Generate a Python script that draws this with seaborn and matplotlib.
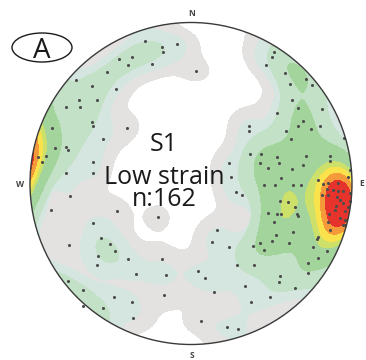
import numpy as np
import matplotlib
matplotlib.use("Agg")
import matplotlib.pyplot as plt
import seaborn as sns
import pandas as pd
from matplotlib.patches import Circle, Ellipse

# Poles to S1, equal-area (Schmidt) lower-hemisphere net coordinates (unit radius)
net_x = [-0.286, -0.180, -0.174, -0.087, -0.447, -0.366, -0.391, -0.242, -0.522, -0.714,
         -0.615, -0.466, -0.696, -0.584, -0.776, -0.689, -0.615, -0.609, -0.863, -0.398,
         -0.547, -0.845, -0.776, -0.764, -0.950, -0.901, -0.925, -0.609, -0.776, -0.609,
         0.031, 0.516, 0.503, 0.466, 0.584, 0.714, 0.615, 0.752, 0.627, 0.665,
         0.814, 0.534, 0.696, 0.665, 0.360, 0.360, 0.590, 0.745, 0.801, 0.621,
         0.950, 0.366, 0.435, 0.534, 0.714, 0.863, 0.429, 0.547, 0.863, 0.696,
         0.236, 0.478, 0.627, 0.248, 0.559, 0.975,
         -0.752, -0.870, -0.460, -0.205, -0.609, -0.559, -0.503, -0.758, -0.472, -0.578,
         -0.391, -0.180, -0.584, -0.342, -0.155, -0.764, -0.671, -0.168, -0.478, -0.366,
         -0.547, -0.360, -0.671,
         0.453, 0.522, 0.634, 0.683, 0.280, 0.317, 0.553, 0.602, 0.646, 0.478,
         0.534, 0.559, 0.658, 0.665, 0.516, 0.161, 0.634, 0.528, 0.130, 0.236,
         0.503, 0.429, 0.385, 0.453, 0.609, 0.286, 0.391, 0.727, 0.727, 0.043,
         0.087, 0.553, 0.547, 0.335, 0.646, 0.143, 0.491, 0.373, 0.062, 0.224,
         0.292,
         0.990, 0.789, 0.820, 0.851, 0.913, 0.845, 0.913, 0.944, 0.851, 0.907,
         0.985, 0.944, 0.975, 0.894, 0.857, 0.957, 0.944, 0.851, 0.863, 0.789,
         0.783, 0.758, 0.845, 0.789,
         0.925, 0.957, 0.901, 0.988, 0.925, 0.882, 0.955, 0.814]
net_y = [0.885, 0.848, 0.817, 0.866, 0.773, 0.786, 0.736, 0.742, 0.693, 0.643,
         0.606, 0.587, 0.519, 0.519, 0.475, 0.475, 0.382, 0.357, 0.345, 0.345,
         0.276, 0.220, 0.227, 0.208, 0.165, 0.171, 0.134, 0.134, 0.065, 0.065,
         0.699, 0.817, 0.786, 0.736, 0.686, 0.649, 0.618, 0.612, 0.519, 0.469,
         0.463, 0.438, 0.388, 0.357, 0.357, 0.326, 0.326, 0.339, 0.357, 0.276,
         0.285, 0.183, 0.183, 0.165, 0.171, 0.171, 0.127, 0.127, 0.140, 0.115,
         0.127, 0.096, 0.090, 0.040, 0.034, 0.040,
         -0.078, -0.165, -0.171, -0.208, -0.245, -0.339, -0.376, -0.382, -0.419, -0.450,
         -0.469, -0.469, -0.506, -0.562, -0.568, -0.606, -0.661, -0.693, -0.705, -0.736,
         -0.773, -0.835, -0.761,
         -0.009, -0.009, -0.009, -0.009, -0.053, -0.071, -0.109, -0.115, -0.146, -0.183,
         -0.189, -0.189, -0.189, -0.202, -0.239, -0.289, -0.301, -0.320, -0.363, -0.394,
         -0.357, -0.370, -0.388, -0.413, -0.370, -0.506, -0.506, -0.494, -0.556, -0.543,
         -0.587, -0.575, -0.612, -0.637, -0.649, -0.674, -0.705, -0.736, -0.854, -0.891,
         -0.904,
         0.084, 0.022, -0.003, 0.003, 0.003, -0.034, -0.047, -0.047, -0.071, -0.084,
         -0.109, -0.121, -0.146, -0.165, -0.189, -0.227, -0.258, -0.239, -0.289, -0.332,
         -0.345, -0.394, -0.419, -0.463,
         -0.102, -0.171, -0.140, -0.059, -0.214, -0.040, -0.258, -0.071]

title_lines = ["S1", "Low strain", "n:162"]
panel_label = "A"
directions = ["N", "E", "S", "W"]

low_colors = ["#e4e1e1", "#d5e6e0"]
high_colors = ["#c3e1c6", "#a3d49c", "#cde06a", "#f9e24c", "#f49a3a", "#e6332b"]
low_levels = [0.75, 1.9]
high_fracs = [0.23, 0.33, 0.52, 0.60, 0.70, 0.81]


def to_vec(x, y):
    x = np.asarray(x, float)
    y = np.asarray(y, float)
    r = np.hypot(x, y)
    r = np.clip(r, 1e-9, np.sqrt(2) - 1e-9)
    th = 2 * np.arcsin(r / np.sqrt(2))
    return np.stack([np.sin(th) * x / r, np.sin(th) * y / r, -np.cos(th)], axis=-1)


pts = to_vec(net_x, net_y)
g = np.linspace(-1.05, 1.05, 281)
GX, GY = np.meshgrid(g, g)
G = to_vec(GX.ravel(), GY.ravel())
c = np.abs(G @ pts.T)
dens_fine = np.exp(65.0 * (c - 1)).sum(axis=1).reshape(GX.shape)
dens_broad = np.exp(38.0 * (c - 1)).sum(axis=1).reshape(GX.shape)
bmax = dens_broad.max()

fig = plt.figure(figsize=(3.66, 3.60), dpi=100)
ax = fig.add_axes([0, 0, 1, 1])

clip = Circle((0, 0), 1, transform=ax.transData)
cs1 = ax.contourf(GX, GY, dens_fine, levels=low_levels + [1e9], colors=low_colors, zorder=1)
cs1.set_clip_path(clip)
cs2 = ax.contourf(GX, GY, dens_broad, levels=[f * bmax for f in high_fracs] + [1e9],
                  colors=high_colors, zorder=2)
cs2.set_clip_path(clip)

df = pd.DataFrame({"x": net_x, "y": net_y})
sns.scatterplot(data=df, x="x", y="y", ax=ax, color="#4d4d4d", s=5,
                linewidth=0, zorder=3, legend=False)
ax.add_patch(Circle((0, 0), 1, fill=False, ec="#3a3a3a", lw=1.0, zorder=4))
ax.set_xlim(-191 / 161, 175 / 161)
ax.set_ylim(-176.5 / 161, 183.5 / 161)
ax.set_aspect("equal")
ax.axis("off")

fam = ["Open Sans", "DejaVu Sans"]
tx = -27 / 161
ty = [(183.5 - 151) / 161, (183.5 - 184) / 161, (183.5 - 206) / 161]
for t, yy in zip(title_lines, ty):
    ax.text(tx, yy, t, ha="center", va="baseline", fontsize=18, family=fam,
            color="#1a1a1a", zorder=5)

ax.add_patch(Ellipse(((42 - 191) / 161, (183.5 - 47.5) / 161), 60 / 161, 29 / 161,
                     fill=False, ec="#1a1a1a", lw=1.0, zorder=5))
ax.text((42 - 191) / 161, (183.5 - 58.5) / 161, panel_label, ha="center", va="baseline",
        fontsize=20, family=fam, color="#1a1a1a", zorder=5)

dpos = {"N": (0.006, 1.053), "S": (0.006, -1.071), "W": (-1.062, -0.009), "E": (1.062, 0.003)}
for d in directions:
    ax.text(dpos[d][0], dpos[d][1], d, ha="center", va="center", fontsize=6,
            family=fam, fontweight="bold", color="#444444", zorder=5)

fig.savefig("out.png", dpi=100)
